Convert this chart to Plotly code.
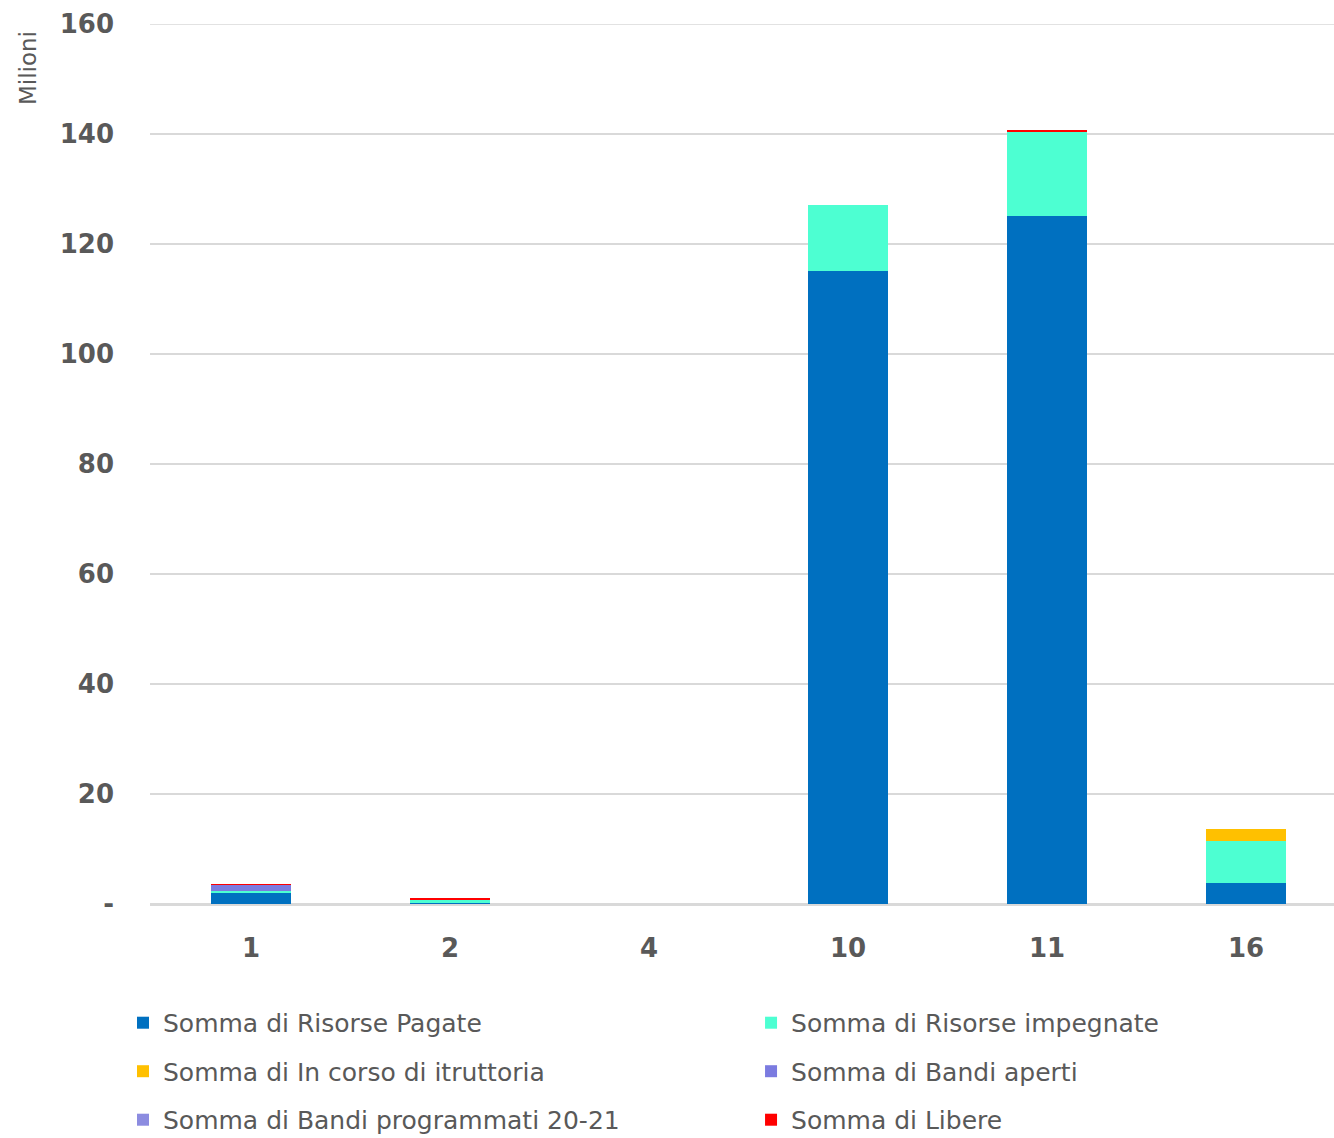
import plotly.graph_objects as go

categories = ["1", "2", "4", "10", "11", "16"]
risorse_pagate = [2.0, 0.1, 0, 115.1, 125.1, 3.8]
risorse_impegnate = [0.4, 0.8, 0, 12.0, 15.3, 7.7]
in_corso_istruttoria = [0, 0, 0, 0, 0, 2.2]
bandi_aperti = [1.1, 0, 0, 0, 0, 0]
bandi_programmati = [0, 0, 0, 0, 0, 0]
libere = [0.12, 0.12, 0, 0, 0.3, 0]

y_max = 160
y_tickvals = [0, 20, 40, 60, 80, 100, 120, 140, 160]
y_ticktext = ["-", "20", "40", "60", "80", "100", "120", "140", "160"]

series = [
    ("Somma di Risorse Pagate", risorse_pagate, "#0070C0", "legend"),
    ("Somma di Risorse impegnate", risorse_impegnate, "#4DFFD2", "legend2"),
    ("Somma di In corso di itruttoria", in_corso_istruttoria, "#FFC000", "legend"),
    ("Somma di Bandi aperti", bandi_aperti, "#7B7BE0", "legend2"),
    ("Somma di Bandi programmati 20-21", bandi_programmati, "#8C8CE0", "legend"),
    ("Somma di Libere", libere, "#FF0000", "legend2"),
]

FONT = "DejaVu Sans"
GREY = "#595959"
GRID = "#D9D9D9"

fig = go.Figure()
for name, vals, color, leg in series:
    fig.add_trace(go.Bar(
        x=categories, y=vals, name=name, legend=leg, legendgroup=name,
        marker=dict(color=color, line=dict(width=0)),
    ))

legend_common = dict(
    orientation="v", traceorder="grouped", tracegroupgap=13,
    font=dict(family=FONT, size=25, color=GREY),
    bgcolor="rgba(0,0,0,0)", xanchor="left", yanchor="top",
    xref="container", yref="container",
)

fig.update_layout(
    width=1334, height=1138,
    margin=dict(l=150, r=0, t=24, b=234, autoexpand=False),
    paper_bgcolor="white", plot_bgcolor="white",
    barmode="stack", bargap=0.6,
    font=dict(family=FONT, color=GREY),
    legend=dict(x=0.0922, y=0.1213, **legend_common),
    legend2=dict(x=0.563, y=0.1213, **legend_common),
    xaxis=dict(
        type="category", automargin=False, range=[-0.5075, 5.4422],
        tickfont=dict(family=FONT, size=26, color=GREY, weight="bold"),
        showgrid=False, showline=True, linecolor=GRID, linewidth=2,
        ticks="", ticklabelstandoff=20,
    ),
    yaxis=dict(
        range=[0, y_max], tickvals=y_tickvals, ticktext=y_ticktext, automargin=False,
        tickfont=dict(family=FONT, size=26, color=GREY, weight="bold"),
        showgrid=True, gridcolor=GRID, gridwidth=1.5,
        zeroline=True, zerolinecolor=GRID, zerolinewidth=2,
        showline=False, ticks="", ticklabelstandoff=35,
    ),
    shapes=[dict(
        type="line", xref="paper", yref="y", x0=0, x1=1, y0=y_max, y1=y_max,
        line=dict(color=GRID, width=1.5), layer="below",
    )],
    annotations=[dict(
        text="Milioni", xref="paper", yref="paper",
        x=-0.103, y=0.95, xanchor="center", yanchor="middle",
        textangle=-90, showarrow=False,
        font=dict(family=FONT, size=23, color=GREY),
    )],
)

fig.write_html(
    "out.html",
    config={"displayModeBar": False},
    post_script="document.body.style.margin='0';document.body.style.overflow='hidden';",
)
